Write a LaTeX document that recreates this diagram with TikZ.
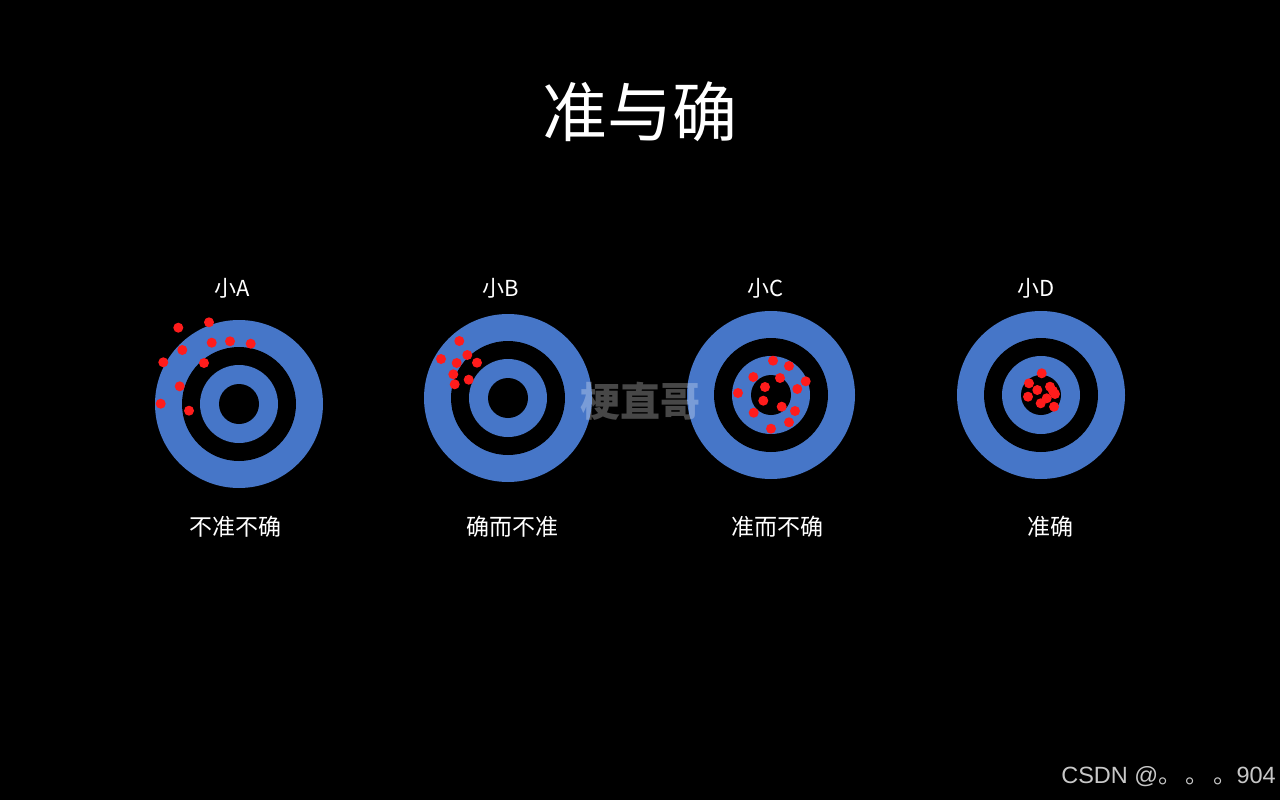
\documentclass[tikz,border=0pt]{standalone}
\usepackage{fontspec}
\setmainfont{Noto Sans CJK SC}
\newfontfamily\latinsans{Liberation Sans}
\definecolor{tblue}{RGB}{70,118,200}
\definecolor{tred}{RGB}{255,28,28}
\definecolor{wmgray}{RGB}{200,200,200}
\begin{document}
\begin{tikzpicture}[x=1pt,y=-1pt,
  lbl/.style={text=white,font=\fontsize{22}{26}\selectfont,inner sep=0pt,anchor=center},
  verdict/.style={text=white,font=\fontsize{23}{27}\selectfont,inner sep=0pt,anchor=center},
  shot/.style={fill=tred},
  target/.pic={
    \fill[tblue] (0,0) circle (84);
    \fill[black] (0,0) circle (57);
    \fill[tblue] (0,0) circle (39);
    \fill[black] (0,0) circle (20);
  }]
\fill[black] (0,0) rectangle (1280,800);
\useasboundingbox (0,0) rectangle (1280,800);

\node[text=white,font=\fontsize{65}{72}\selectfont,inner sep=0pt] (title) at (640,112) {准与确};

% targets
\pic at (239,404) {target};
\pic at (508,398) {target};
\pic at (771,395) {target};
\pic at (1041,395) {target};

% watermark
\node[text=white,opacity=0.28,font=\bfseries\fontsize{40}{46}\selectfont,inner sep=0pt] (wm) at (640,401) {梗直哥};

% shots A
\foreach \p in {(178.3,327.7),(209,322.3),(211.7,342.7),(230,341.3),(250.7,343.7),(182.3,350),(163.3,362.3),(204,363),(179.7,386.3),(160.7,403.7),(189,410.7)}
  \fill[shot] \p circle (5);
% shots B
\foreach \p in {(459.3,341),(441,359),(467.3,355),(456.7,363),(477,362.7),(453.3,374.3),(454.7,384.3),(468.7,379.7)}
  \fill[shot] \p circle (5);
% shots C
\foreach \p in {(773,360.7),(789,366),(753.3,377),(780,378),(805.7,381.3),(797.3,389),(765,387),(738,393),(763.3,400.7),(781.7,406.7),(795,411),(753.7,412.7),(789,422.3),(771,428.7)}
  \fill[shot] \p circle (5);
% shots D
\foreach \p in {(1041.7,373.3),(1029,383.3),(1050,386.7),(1037.3,390),(1055,394),(1053,391),(1028,396.7),(1046.7,398.3),(1040.7,403.3),(1054,406.7)}
  \fill[shot] \p circle (5);

% names
\node[lbl] (na) at (232,288) {小A};
\node[lbl] (nb) at (501,288) {小B};
\node[lbl] (nc) at (766,288) {小C};
\node[lbl] (nd) at (1036,288) {小D};

% verdicts
\node[verdict] (va) at (235,527) {不准不确};
\node[verdict] (vb) at (512,527) {确而不准};
\node[verdict] (vc) at (777,527) {准而不确};
\node[verdict] (vd) at (1050,527) {准确};

\node[text=wmgray,font=\fontsize{23.5}{27}\selectfont,inner sep=0pt,anchor=east] (csdn) at (1276,777) {{\latinsans CSDN @}。\,。\,。{\latinsans 904}};
\end{tikzpicture}
\end{document}
